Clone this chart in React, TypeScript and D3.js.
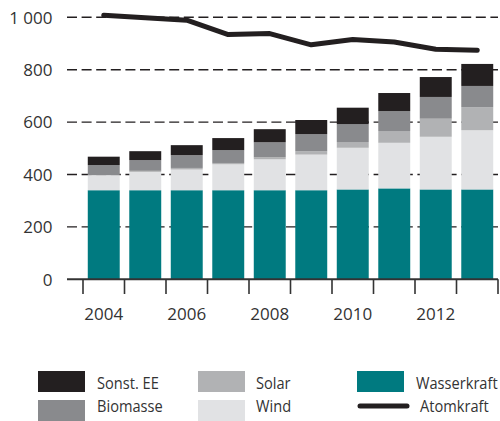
import React from "react";
import * as d3 from "d3";

const years = [2004, 2005, 2006, 2007, 2008, 2009, 2010, 2011, 2012, 2013];
const wasserkraft = [340, 340, 340, 340, 340, 340, 343, 347, 343, 343];
const wind = [57, 70, 79, 99, 118, 136, 159, 174, 201, 226];
const solar = [1, 4, 6, 5, 8, 13, 22, 45, 69, 88];
const biomasse = [38, 41, 49, 49, 57, 65, 68, 76, 83, 81];
const sonstEE = [32, 34, 38, 46, 50, 54, 63, 69, 76, 84];
const atomkraft = [1008, 998, 989, 934, 938, 895, 915, 906, 878, 874];
const yTicks = [0, 200, 400, 600, 800, 1000];
const xTickLabels = [2004, 2006, 2008, 2010, 2012];

const seriesKeys = ["Wasserkraft", "Wind", "Solar", "Biomasse", "Sonst. EE"];
const seriesColors: Record<string, string> = {
  Wasserkraft: "#007a80",
  Wind: "#e1e2e4",
  Solar: "#b1b2b4",
  Biomasse: "#898a8d",
  "Sonst. EE": "#231f20",
};

const FONT = "'Open Sans', sans-serif";
const TEXT = "#333333";

export default function App() {
  const W = 500, H = 421;
  const x = d3.scaleBand<number>().domain(years).range([83, 498]).paddingInner(0.23).paddingOuter(0.115);
  const y = d3.scaleLinear().domain([0, 1000]).range([279.3, 17.3]);
  const fmt = d3.formatLocale({ decimal: ",", thousands: " ", grouping: [3], currency: ["", "€"] }).format(",d");

  const table = years.map((yr, i) => ({
    year: yr,
    Wasserkraft: wasserkraft[i],
    Wind: wind[i],
    Solar: solar[i],
    Biomasse: biomasse[i],
    "Sonst. EE": sonstEE[i],
  }));
  const stacked = d3.stack<any>().keys(seriesKeys)(table);

  const line = d3
    .line<number>()
    .x((_, i) => (x(years[i]) as number) + x.bandwidth() / 2)
    .y((d) => y(d));

  const boundaries = d3.range(years.length + 1).map((i) => 83 + i * x.step());

  const legendText = (label: string, tx: number, ty: number) => (
    <text transform={`translate(${tx},${ty}) scale(0.86,1)`}>{label}</text>
  );

  return (
    <svg width={W} height={H} style={{ display: "block", position: "absolute", left: 0, top: 0 }} fontFamily={FONT}>
      {/* grid */}
      {yTicks.filter((t) => t > 0).map((t) => (
        <line key={t} x1={67} x2={498} y1={y(t)} y2={y(t)} stroke="#231f20" strokeWidth={1.4} strokeDasharray="10,4.6" />
      ))}
      {/* y labels */}
      {yTicks.map((t) => (
        <text key={"l" + t} x={52.5} y={y(t) + 6.2} textAnchor="end" fontSize={17} fill={TEXT}>
          {fmt(t)}
        </text>
      ))}
      {/* bars */}
      {stacked.map((s) => (
        <g key={s.key} fill={seriesColors[s.key]}>
          {s.map((d, i) => (
            <rect key={i} x={x(years[i])} width={x.bandwidth()} y={y(d[1])} height={y(d[0]) - y(d[1])} />
          ))}
        </g>
      ))}
      {/* axis */}
      <line x1={67} x2={498} y1={y(0)} y2={y(0)} stroke="#333" strokeWidth={2} />
      {boundaries.map((b, i) => (
        <line key={"t" + i} x1={b} x2={b} y1={y(0)} y2={294} stroke="#333" strokeWidth={1.6} />
      ))}
      {xTickLabels.map((yr) => (
        <text key={"x" + yr} x={(x(yr) as number) + x.bandwidth() / 2} y={320} textAnchor="middle" fontSize={17} fill={TEXT}>
          {yr}
        </text>
      ))}
      {/* line */}
      <path d={line(atomkraft) || ""} fill="none" stroke="#231f20" strokeWidth={5} strokeLinecap="round" strokeLinejoin="round" />
      {/* legend */}
      <g fontSize={17} fill={TEXT}>
        <rect x={38} y={371} width={47} height={21} fill={seriesColors["Sonst. EE"]} />
        {legendText("Sonst. EE", 97, 389)}
        <rect x={38} y={400} width={47} height={21} fill={seriesColors["Biomasse"]} />
        {legendText("Biomasse", 97, 412)}
        <rect x={198} y={371} width={47} height={21} fill={seriesColors["Solar"]} />
        {legendText("Solar", 256, 389)}
        <rect x={198} y={400} width={47} height={21} fill={seriesColors["Wind"]} />
        {legendText("Wind", 256, 412)}
        <rect x={357} y={371} width={47} height={21} fill={seriesColors["Wasserkraft"]} />
        {legendText("Wasserkraft", 416, 389)}
        <line x1={360} x2={407} y1={406} y2={406} stroke="#231f20" strokeWidth={5} strokeLinecap="round" />
        {legendText("Atomkraft", 420, 412)}
      </g>
    </svg>
  );
}
